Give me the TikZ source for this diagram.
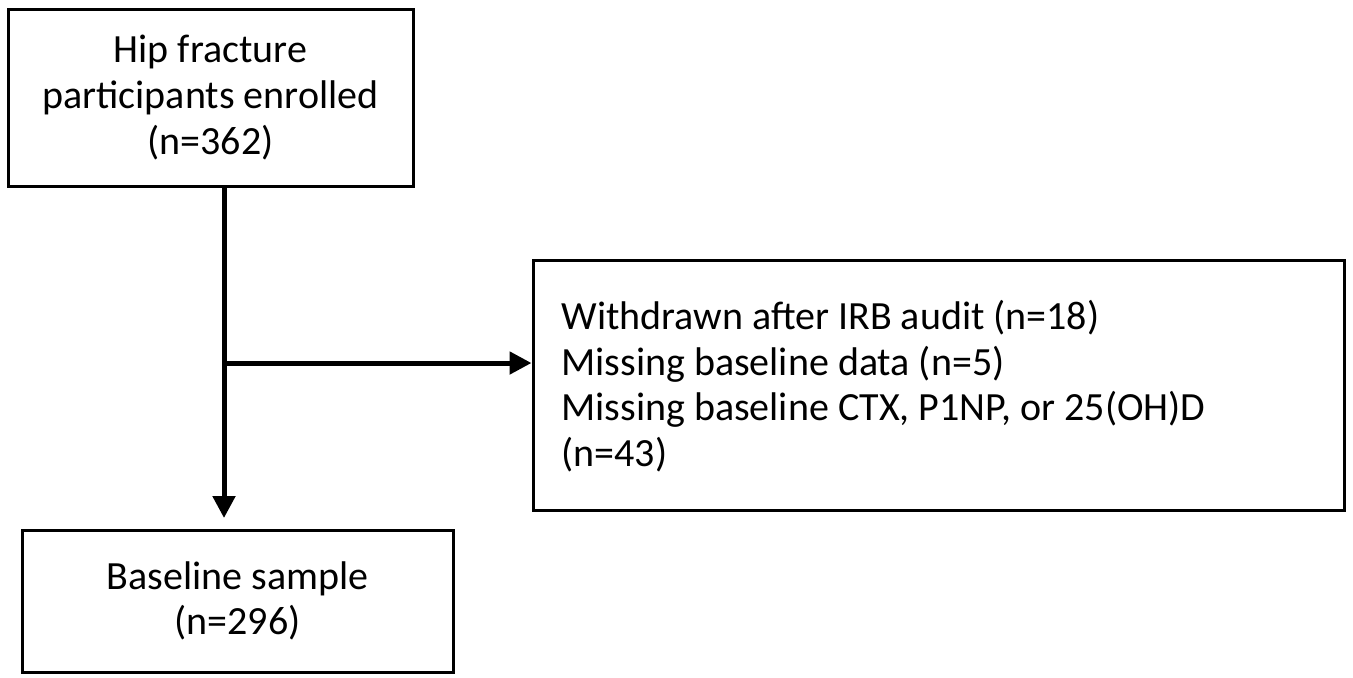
\documentclass[tikz,border=0pt]{standalone}
\usepackage{fontspec}
\setmainfont{Carlito}
\usetikzlibrary{arrows.meta}
\begin{document}
\begin{tikzpicture}[x=0.5pt,y=-0.5pt,
  boxstyle/.style={draw, line width=1.5pt, inner sep=0pt, font=\fontsize{20}{22.8}\selectfont},
  conn/.style={line width=2.5pt, -{Triangle[length=11pt,width=11pt]}}]
\useasboundingbox (0,0) rectangle (1353,677);
\node[boxstyle, minimum width=202.5pt, minimum height=88.5pt, align=center] (enr) at (210.5,97.5) {Hip fracture\\participants enrolled\\(n=362)};
\node[boxstyle, minimum width=405.5pt, minimum height=125pt] (exc) at (938.5,385) {};
\node[align=left, anchor=west, inner sep=0pt, font=\fontsize{20}{22.8}\selectfont] (exct) at (561,386) {Withdrawn after IRB audit (n=18)\\Missing baseline data (n=5)\\Missing baseline CTX, P1NP, or 25(OH)D\\(n=43)};
\node[boxstyle, minimum width=215.5pt, minimum height=71pt, align=center] (base) at (237.5,601) {Baseline sample\\(n=296)};
\coordinate (j) at (224,363);
\coordinate (tip) at (224,518);
\draw[conn] (enr.south -| j) -- (tip);
\draw[conn] (j) -- (j -| exc.west);
\end{tikzpicture}
\end{document}
